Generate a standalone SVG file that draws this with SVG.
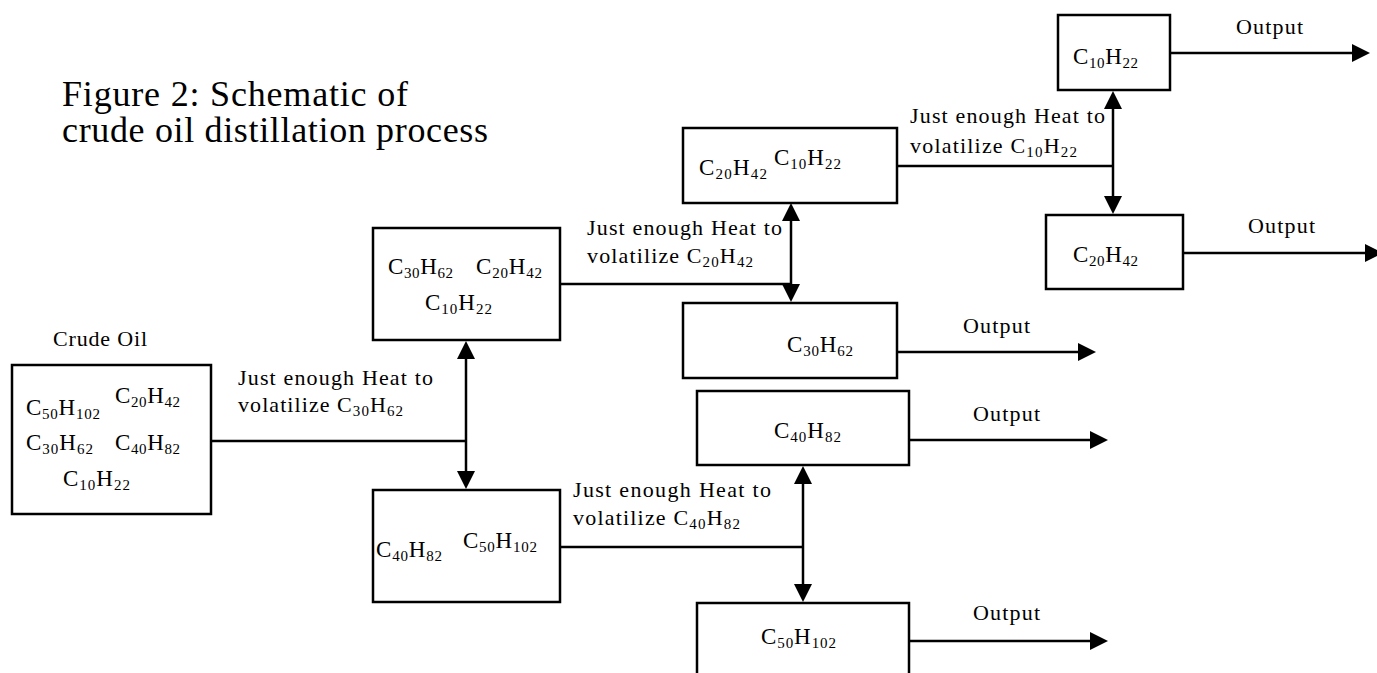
<svg xmlns="http://www.w3.org/2000/svg" width="1377" height="673" viewBox="0 0 1377 673">
<style>
  text { font-family: "Liberation Serif", "Times New Roman", serif; fill: #000; }
  .title { font-size: 36px; }
  .lbl { font-size: 22px; }
  .f { font-size: 23px; }
  .s { font-size: 15px; }
  .box { fill: #fff; stroke: #000; stroke-width: 2.5; }
  .ln { fill: none; stroke: #000; stroke-width: 2.5; }
  .ar { fill: none; stroke: #000; stroke-width: 2.5; marker-end: url(#ah); }
</style>
<defs>
  <marker id="ah" markerUnits="userSpaceOnUse" markerWidth="18" markerHeight="18" refX="14" refY="9" orient="auto">
    <path d="M0,0 L18,9 L0,18 Z" fill="#000"/>
  </marker>
</defs>
<rect width="1377" height="673" fill="#fff"/>

<g id="title">
  <text class="title"><tspan x="62" y="106" textLength="346">Figure 2: Schematic of</tspan><tspan x="62" y="142" textLength="426">crude oil distillation process</tspan></text>
</g>

<g id="connectors">
  <path class="ln" d="M211,441 H466"/>
  <path class="ar" d="M466,441 V345"/>
  <path class="ar" d="M466,441 V485"/>
  <path class="ln" d="M560,284 H791"/>
  <path class="ar" d="M791,284 V207"/>
  <path class="ar" d="M791,284 V298"/>
  <path class="ln" d="M560,547 H803"/>
  <path class="ar" d="M803,547 V470"/>
  <path class="ar" d="M803,547 V598"/>
  <path class="ln" d="M897,166 H1113"/>
  <path class="ar" d="M1113,166 V95"/>
  <path class="ar" d="M1113,166 V210"/>
  <path class="ar" d="M1170,53 H1366"/>
  <path class="ar" d="M1183,253 H1379"/>
  <path class="ar" d="M897,352 H1092"/>
  <path class="ar" d="M909,440 H1104"/>
  <path class="ar" d="M909,641 H1104"/>
</g>

<g id="labels">
  <text class="lbl" x="238" y="385" textLength="195">Just enough Heat to</text>
  <text class="lbl" x="238" y="412" textLength="165">volatilize C<tspan class="s" dy="4">30</tspan><tspan dy="-4">H</tspan><tspan class="s" dy="4">62</tspan></text>
  <text class="lbl" x="587" y="235" textLength="195">Just enough Heat to</text>
  <text class="lbl" x="587" y="263" textLength="166">volatilize C<tspan class="s" dy="4">20</tspan><tspan dy="-4">H</tspan><tspan class="s" dy="4">42</tspan></text>
  <text class="lbl" x="573" y="497" textLength="198">Just enough Heat to</text>
  <text class="lbl" x="573" y="525" textLength="167">volatilize C<tspan class="s" dy="4">40</tspan><tspan dy="-4">H</tspan><tspan class="s" dy="4">82</tspan></text>
  <text class="lbl" x="910" y="123" textLength="195">Just enough Heat to</text>
  <text class="lbl" x="910" y="153" textLength="167">volatilize C<tspan class="s" dy="4">10</tspan><tspan dy="-4">H</tspan><tspan class="s" dy="4">22</tspan></text>
  <text class="lbl" x="1236" y="34" textLength="67">Output</text>
  <text class="lbl" x="1248" y="233" textLength="67">Output</text>
  <text class="lbl" x="963" y="333" textLength="67">Output</text>
  <text class="lbl" x="973" y="421" textLength="67">Output</text>
  <text class="lbl" x="973" y="620" textLength="67">Output</text>
</g>

<g id="crude-oil">
  <text class="lbl" x="53" y="346" textLength="94">Crude Oil</text>
  <rect class="box" x="12" y="365" width="199" height="149"/>
  <text class="f" x="26" y="415" textLength="74">C<tspan class="s" dy="4">50</tspan><tspan dy="-4">H</tspan><tspan class="s" dy="4">102</tspan></text>
  <text class="f" x="115" y="403" textLength="65">C<tspan class="s" dy="4">20</tspan><tspan dy="-4">H</tspan><tspan class="s" dy="4">42</tspan></text>
  <text class="f" x="26" y="450" textLength="67">C<tspan class="s" dy="4">30</tspan><tspan dy="-4">H</tspan><tspan class="s" dy="4">62</tspan></text>
  <text class="f" x="115" y="450" textLength="65">C<tspan class="s" dy="4">40</tspan><tspan dy="-4">H</tspan><tspan class="s" dy="4">82</tspan></text>
  <text class="f" x="63" y="486" textLength="67">C<tspan class="s" dy="4">10</tspan><tspan dy="-4">H</tspan><tspan class="s" dy="4">22</tspan></text>
</g>

<g id="stage1-top">
  <rect class="box" x="373" y="228" width="187" height="112"/>
  <text class="f" x="388" y="274" textLength="65">C<tspan class="s" dy="4">30</tspan><tspan dy="-4">H</tspan><tspan class="s" dy="4">62</tspan></text>
  <text class="f" x="476" y="274" textLength="66">C<tspan class="s" dy="4">20</tspan><tspan dy="-4">H</tspan><tspan class="s" dy="4">42</tspan></text>
  <text class="f" x="425" y="310" textLength="67">C<tspan class="s" dy="4">10</tspan><tspan dy="-4">H</tspan><tspan class="s" dy="4">22</tspan></text>
</g>

<g id="stage1-bottom">
  <rect class="box" x="373" y="490" width="187" height="112"/>
  <text class="f" x="376" y="557" textLength="66">C<tspan class="s" dy="4">40</tspan><tspan dy="-4">H</tspan><tspan class="s" dy="4">82</tspan></text>
  <text class="f" x="463" y="548" textLength="74">C<tspan class="s" dy="4">50</tspan><tspan dy="-4">H</tspan><tspan class="s" dy="4">102</tspan></text>
</g>

<g id="stage2-top">
  <rect class="box" x="683" y="128" width="214" height="75"/>
  <text class="f" x="699" y="175" textLength="68">C<tspan class="s" dy="4">20</tspan><tspan dy="-4">H</tspan><tspan class="s" dy="4">42</tspan></text>
  <text class="f" x="774" y="165" textLength="67">C<tspan class="s" dy="4">10</tspan><tspan dy="-4">H</tspan><tspan class="s" dy="4">22</tspan></text>
</g>

<g id="out-c30">
  <rect class="box" x="683" y="303" width="214" height="75"/>
  <text class="f" x="787" y="352" textLength="66">C<tspan class="s" dy="4">30</tspan><tspan dy="-4">H</tspan><tspan class="s" dy="4">62</tspan></text>
</g>

<g id="out-c40">
  <rect class="box" x="697" y="391" width="212" height="74"/>
  <text class="f" x="774" y="438" textLength="67">C<tspan class="s" dy="4">40</tspan><tspan dy="-4">H</tspan><tspan class="s" dy="4">82</tspan></text>
</g>

<g id="out-c50">
  <rect class="box" x="697" y="603" width="212" height="100"/>
  <text class="f" x="761" y="644" textLength="75">C<tspan class="s" dy="4">50</tspan><tspan dy="-4">H</tspan><tspan class="s" dy="4">102</tspan></text>
</g>

<g id="out-c10">
  <rect class="box" x="1058" y="15" width="112" height="75"/>
  <text class="f" x="1073" y="64" textLength="65">C<tspan class="s" dy="4">10</tspan><tspan dy="-4">H</tspan><tspan class="s" dy="4">22</tspan></text>
</g>

<g id="out-c20">
  <rect class="box" x="1046" y="215" width="137" height="74"/>
  <text class="f" x="1073" y="262" textLength="65">C<tspan class="s" dy="4">20</tspan><tspan dy="-4">H</tspan><tspan class="s" dy="4">42</tspan></text>
</g>
</svg>
